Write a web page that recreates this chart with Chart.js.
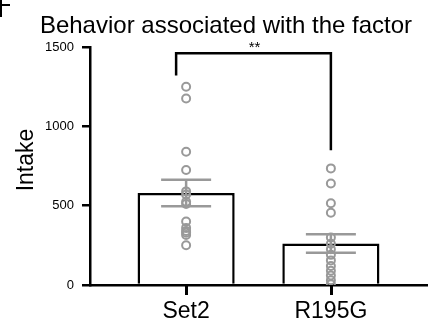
<!DOCTYPE html>
<html>
<head>
<meta charset="utf-8">
<script src="https://cdn.jsdelivr.net/npm/chart.js@4.4.0/dist/chart.umd.min.js"></script>
<style>
  html, body { margin: 0; padding: 0; background: #fff; }
  #wrap { width: 433px; height: 320px; }
</style>
</head>
<body>
<div id="wrap"><canvas id="plot"></canvas></div>
<script>
// datos
const grupos = ['Set2', 'R195G'];
const medias = [580, 262];
const sem = [83, 58];
const puntosSet2 = [1250, 1175, 840, 725, 590, 570, 525, 510, 400, 360, 340, 330, 315, 250];
const puntosR195G = [735, 640, 515, 455, 300, 260, 225, 190, 155, 120, 90, 60, 30, 5];
const yTicks = [0, 500, 1000, 1500];
const titulo = 'Behavior associated with the factor';
const tituloY = 'Intake';
const signif = '**';
// corchete de significancia (valores en el eje y)
const corcheteArriba = 1460;
const corcheteIzq = 1320;
const corcheteDer = 850;

const gris = '#999999';
const fuente = 'Arial, "Liberation Sans", sans-serif';

let puntos = [];
puntosSet2.forEach(v => puntos.push({x: 0, y: v}));
puntosR195G.forEach(v => puntos.push({x: 1, y: v}));
let barras = medias.map((m, i) => ({x: i, y: m}));

//Plugin para barras de error, corchete y textos
let decoracion = {
  id: 'decoracion',
  afterDatasetsDraw(chart) {
    let ctx = chart.ctx;
    let xs = chart.scales.x;
    let ys = chart.scales.y;
    ctx.save();
    // barras de error
    ctx.strokeStyle = gris;
    ctx.lineWidth = 2.5;
    grupos.forEach((g, i) => {
      let cx = xs.getPixelForValue(i);
      let yTop = ys.getPixelForValue(medias[i] + sem[i]);
      let yBot = ys.getPixelForValue(medias[i] - sem[i]);
      ctx.beginPath();
      ctx.moveTo(cx, yTop); ctx.lineTo(cx, yBot);
      ctx.moveTo(cx - 25, yTop); ctx.lineTo(cx + 25, yTop);
      ctx.moveTo(cx - 25, yBot); ctx.lineTo(cx + 25, yBot);
      ctx.stroke();
    });
    // corchete
    let x1 = xs.getPixelForValue(0) - 10;
    let x2 = xs.getPixelForValue(1);
    ctx.strokeStyle = '#000';
    ctx.beginPath();
    ctx.moveTo(x1, ys.getPixelForValue(corcheteIzq));
    ctx.lineTo(x1, ys.getPixelForValue(corcheteArriba));
    ctx.lineTo(x2, ys.getPixelForValue(corcheteArriba));
    ctx.lineTo(x2, ys.getPixelForValue(corcheteDer));
    ctx.stroke();
    ctx.fillStyle = '#000';
    ctx.font = '15px ' + fuente;
    ctx.textAlign = 'center';
    ctx.textBaseline = 'alphabetic';
    ctx.fillText(signif, (x1 + x2) / 2 + 1, 52);
    ctx.restore();
  },
  afterDraw(chart) {
    let ctx = chart.ctx;
    let xs = chart.scales.x;
    let ys = chart.scales.y;
    ctx.save();
    ctx.fillStyle = '#000';
    // marcas del eje x en cada grupo (debajo del eje)
    let y0 = ys.getPixelForValue(0);
    grupos.forEach((g, i) => {
      let cx = xs.getPixelForValue(i);
      ctx.fillRect(Math.round(cx) - 1, Math.round(y0), 3, 10);
    });
    ctx.textBaseline = 'alphabetic';
    // titulo
    ctx.font = '24px ' + fuente;
    ctx.textAlign = 'center';
    ctx.fillText(titulo, 226, 33);
    // titulo eje y
    ctx.save();
    ctx.translate(33, 160);
    ctx.rotate(-Math.PI / 2);
    ctx.font = '23px ' + fuente;
    ctx.fillText(tituloY, 0, 0);
    ctx.restore();
    // resto de la letra del panel, cortada en el borde
    ctx.fillRect(0, 0, 2, 17);
    ctx.fillRect(0, 4, 10, 2);
    ctx.restore();
  }
};

let config = {
  data: {
    datasets: [
      {
        type: 'line',
        data: puntos,
        showLine: false,
        pointRadius: 4,
        pointHoverRadius: 4,
        pointBorderWidth: 2,
        pointBorderColor: gris,
        pointBackgroundColor: 'rgba(0,0,0,0)',
        order: 1
      },
      {
        type: 'bar',
        data: barras,
        backgroundColor: '#fff',
        borderColor: '#000',
        borderWidth: 2.5,
        barPercentage: 0.671,
        categoryPercentage: 1,
        order: 2
      }
    ]
  },
  options: {
    responsive: true,
    maintainAspectRatio: false,
    animation: false,
    devicePixelRatio: 1,
    layout: { padding: { top: 47, right: 3, left: 0, bottom: 0 } },
    plugins: {
      legend: { display: false },
      tooltip: { enabled: false },
      title: { display: false }
    },
    scales: {
      x: {
        type: 'linear',
        min: -0.664,
        max: 1.664,
        offset: false,
        afterBuildTicks: (s) => { s.ticks = grupos.map((g, i) => ({value: i})); },
        grid: { display: false, tickLength: 8 },
        border: { display: true, color: '#000', width: 2.5 },
        ticks: {
          color: '#000', font: { family: fuente, size: 23 }, padding: 5, maxRotation: 0,
          callback: (v) => grupos[v]
        },
        afterFit: (s) => { s.height = 35; }
      },
      y: {
        min: 0,
        max: 1500,
        afterBuildTicks: (s) => { s.ticks = yTicks.map(v => ({value: v})); },
        grid: { display: true, drawOnChartArea: false, color: '#000', lineWidth: 2.5, tickLength: 8 },
        border: { display: true, color: '#000', width: 2.5 },
        ticks: { color: '#000', font: { family: fuente, size: 13 }, padding: 8, callback: (v) => String(v) },
        afterFit: (s) => { s.width = 90; }
      }
    }
  },
  plugins: [decoracion]
};

let grafico = new Chart(document.getElementById('plot'), config);
</script>
</body>
</html>
